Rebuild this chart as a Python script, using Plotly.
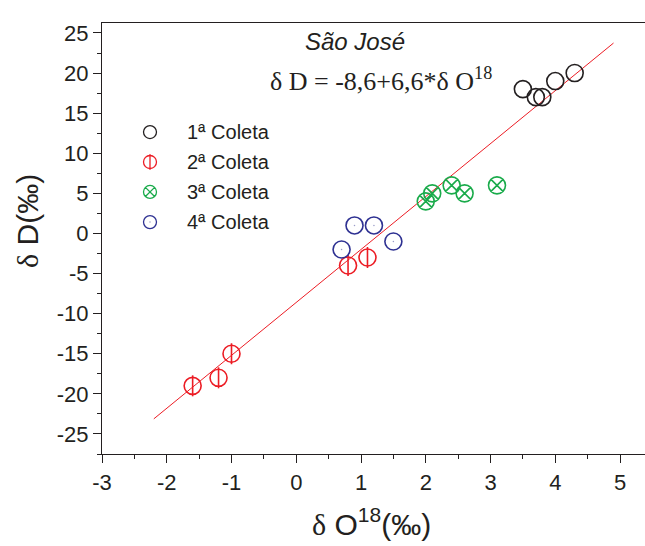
import plotly.graph_objects as go

# ---- data ----
x_c1 = [3.5, 3.7, 3.8, 4.0, 4.3]
y_c1 = [18, 17, 17, 19, 20]
x_c2 = [-1.6, -1.2, -1.0, 0.8, 1.1]
y_c2 = [-19, -18, -15, -4, -3]
x_c3 = [2.0, 2.1, 2.4, 2.6, 3.1]
y_c3 = [4, 5, 6, 5, 6]
x_c4 = [0.7, 0.9, 1.2, 1.5]
y_c4 = [-2, 1, 1, -1]

fit_intercept = -8.6
fit_slope = 6.6
fit_x = [-2.2, 4.9]
fit_y = [fit_intercept + fit_slope * v for v in fit_x]

labels = ["1ª Coleta", "2ª Coleta", "3ª Coleta", "4ª Coleta"]

x_tickvals = [-3, -2, -1, 0, 1, 2, 3, 4, 5]
x_ticktext = ["-3", "-2", "-1", "0", "1", "2", "3", "4", "5"]
y_tickvals = [-25, -20, -15, -10, -5, 0, 5, 10, 15, 20, 25]
y_ticktext = ["-25", "-20", "-15", "-10", "-5", "0", "5", "10", "15", "20", "25"]

BLACK = "#231f20"
RED = "#ec1c24"
GREEN = "#1aab4b"
BLUE = "#2e3192"
SERIF = "Liberation Serif, Times New Roman, serif"
SANS = "Liberation Sans, Arial, sans-serif"

fig = go.Figure()

# regression line
fig.add_trace(go.Scatter(x=fit_x, y=fit_y, mode="lines",
                         line=dict(color=RED, width=1), showlegend=False,
                         hoverinfo="skip"))

MS = 17
fig.add_trace(go.Scatter(x=x_c1, y=y_c1, mode="markers", showlegend=False,
                         marker=dict(symbol="circle-open", size=MS, color=BLACK,
                                     line=dict(width=1.6, color=BLACK))))
fig.add_trace(go.Scatter(x=x_c2, y=y_c2, mode="markers", showlegend=False,
                         marker=dict(symbol="circle-open", size=MS, color=RED,
                                     line=dict(width=1.6, color=RED))))
fig.add_trace(go.Scatter(x=x_c2, y=y_c2, mode="markers", showlegend=False,
                         marker=dict(symbol="line-ns-open", size=MS - 2, color=RED,
                                     line=dict(width=1.6, color=RED))))
fig.add_trace(go.Scatter(x=x_c3, y=y_c3, mode="markers", showlegend=False,
                         marker=dict(symbol="circle-x-open", size=MS, color=GREEN,
                                     line=dict(width=1.6, color=GREEN))))
fig.add_trace(go.Scatter(x=x_c4, y=y_c4, mode="markers", showlegend=False,
                         marker=dict(symbol="circle-open", size=MS, color=BLUE,
                                     line=dict(width=1.6, color=BLUE))))
fig.add_trace(go.Scatter(x=x_c4, y=y_c4, mode="markers", showlegend=False,
                         hoverinfo="skip",
                         marker=dict(symbol="circle", size=1.5, color="#9a9cc8")))

# manual legend (overlay axes in plot-area fractions)
leg_x = 0.0884
leg_y = [0.747, 0.6775, 0.608, 0.538]
leg_sym = ["circle-open", "circle-open", "circle-x-open", "circle-open"]
leg_col = [BLACK, RED, GREEN, BLUE]
LS = 13
for i in range(4):
    fig.add_trace(go.Scatter(x=[leg_x], y=[leg_y[i]], xaxis="x2", yaxis="y2",
                             mode="markers", showlegend=False, hoverinfo="skip",
                             marker=dict(symbol=leg_sym[i], size=LS, color=leg_col[i],
                                         line=dict(width=1.3, color=leg_col[i]))))
fig.add_trace(go.Scatter(x=[leg_x], y=[leg_y[1]], xaxis="x2", yaxis="y2",
                         mode="markers", showlegend=False, hoverinfo="skip",
                         marker=dict(symbol="line-ns-open", size=LS - 2, color=RED,
                                     line=dict(width=1.3, color=RED))))
fig.add_trace(go.Scatter(x=[leg_x], y=[leg_y[3]], xaxis="x2", yaxis="y2",
                         mode="markers", showlegend=False, hoverinfo="skip",
                         marker=dict(symbol="circle", size=1.5, color="#9a9cc8")))

annotations = []
for i in range(4):
    annotations.append(dict(x=0.1529, y=leg_y[i], xref="paper", yref="paper",
                            text=labels[i], showarrow=False, xanchor="left",
                            yanchor="middle", font=dict(family=SANS, size=20, color=BLACK)))

annotations.append(dict(x=0.466, y=0.956, xref="paper", yref="paper",
                        text="<i>São José</i>", showarrow=False, xanchor="center",
                        yanchor="middle", font=dict(family=SANS, size=24, color=BLACK)))
annotations.append(dict(x=0.514, y=0.868, xref="paper", yref="paper",
                        text="δ D = -8,6+6,6*δ O<sup>18</sup>", showarrow=False,
                        xanchor="center", yanchor="middle",
                        font=dict(family=SERIF, size=26, color=BLACK)))
annotations.append(dict(x=0.496, y=-0.158, xref="paper", yref="paper",
                        text=f"<span style=\"font-family:{SERIF}\">δ</span> O<sup>18</sup>(‰)",
                        showarrow=False, xanchor="center", yanchor="middle",
                        font=dict(family=SANS, size=30, color=BLACK)))
annotations.append(dict(x=-0.136, y=0.541, xref="paper", yref="paper",
                        text=f"<span style=\"font-family:{SERIF}\">δ</span> D(‰)",
                        showarrow=False, xanchor="center", yanchor="middle",
                        textangle=-90, font=dict(family=SANS, size=30, color=BLACK)))

axis_common = dict(showgrid=False, zeroline=False, showline=True, linecolor=BLACK,
                   linewidth=1.3, ticks="outside", ticklen=8, tickwidth=1.3,
                   tickcolor=BLACK, tickfont=dict(family=SANS, size=22, color=BLACK))

fig.update_layout(
    width=645, height=546,
    margin=dict(l=102, r=0, t=23, b=92),
    paper_bgcolor="white", plot_bgcolor="white",
    showlegend=False,
    annotations=annotations,
    xaxis=dict(range=[-3, 5.386], tickmode="array", tickvals=x_tickvals,
               ticktext=x_ticktext, mirror=True,
               minor=dict(dtick=0.5, ticklen=4, tickwidth=1.3, tickcolor=BLACK, ticks="outside"),
               **axis_common),
    yaxis=dict(range=[-27.5, 26.24], tickmode="array", tickvals=y_tickvals,
               ticktext=y_ticktext,
               minor=dict(dtick=2.5, ticklen=4, tickwidth=1.3, tickcolor=BLACK, ticks="outside"),
               **axis_common),
    xaxis2=dict(overlaying="x", range=[0, 1], visible=False),
    yaxis2=dict(overlaying="y", range=[0, 1], visible=False),
)

fig.write_html("out.html")
